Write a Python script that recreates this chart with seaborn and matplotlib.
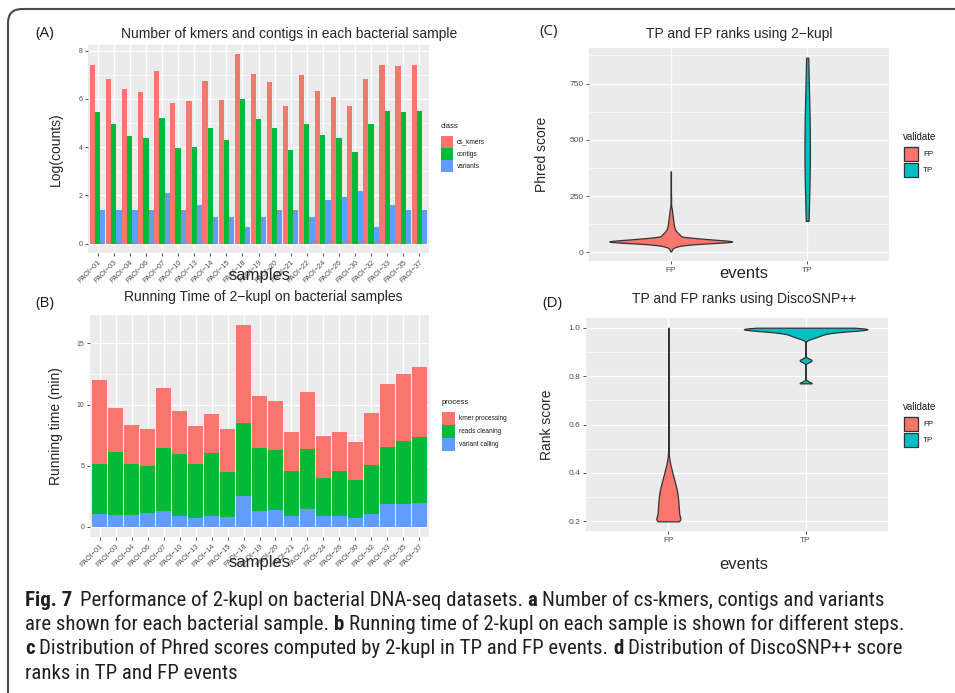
import numpy as np
import pandas as pd
import matplotlib
matplotlib.use("Agg")
import matplotlib.pyplot as plt
import seaborn as sns
from matplotlib.patches import Rectangle, FancyBboxPatch
from matplotlib.transforms import IdentityTransform
from matplotlib.ticker import MultipleLocator
from matplotlib import font_manager

# ---------------- data ----------------
samples = ["PAOI−01", "PAOI−03", "PAOI−04", "PAOI−06", "PAOI−07", "PAOI−10", "PAOI−13",
           "PAOI−14", "PAOI−15", "PAOI−18", "PAOI−19", "PAOI−20", "PAOI−21", "PAOI−22",
           "PAOI−24", "PAOI−26", "PAOI−30", "PAOI−32", "PAOI−33", "PAOI−35", "PAOI−37"]
classes = ["cs_kmers", "contigs", "variants"]
cs_kmers = [7.40, 6.85, 6.40, 6.27, 7.15, 5.82, 5.90, 6.73, 5.95, 7.85, 7.02,
            6.70, 5.70, 6.98, 6.35, 6.10, 5.70, 6.85, 7.40, 7.35, 7.43]
contigs = [5.48, 4.98, 4.48, 4.40, 5.20, 3.98, 4.02, 4.78, 4.28, 5.98, 5.15,
           4.78, 3.90, 4.98, 4.52, 4.40, 3.82, 4.98, 5.52, 5.48, 5.52]
variants = [1.40, 1.40, 1.40, 1.40, 2.08, 1.40, 1.61, 1.10, 1.10, 0.69, 1.10,
            1.40, 1.40, 1.10, 1.82, 1.95, 2.20, 0.69, 1.61, 1.40, 1.40]

processes = ["kmer processing", "reads cleaning", "variant calling"]
kmer_processing = [6.92, 3.62, 3.19, 3.03, 4.88, 3.51, 3.11, 3.19, 3.52, 7.99, 4.25,
                   4.01, 3.19, 4.67, 3.44, 3.19, 3.11, 4.25, 5.15, 5.50, 5.72]
reads_cleaning = [4.09, 5.19, 4.18, 3.84, 5.16, 5.08, 4.42, 5.16, 3.68, 6.00, 5.16,
                  4.91, 3.68, 4.90, 3.11, 3.68, 3.11, 4.01, 4.67, 5.19, 5.40]
variant_calling = [1.04, 0.95, 0.95, 1.12, 1.28, 0.87, 0.71, 0.87, 0.79, 2.51, 1.28,
                   1.36, 0.87, 1.45, 0.87, 0.87, 0.71, 1.04, 1.85, 1.85, 1.94]

validate = ["FP", "TP"]
fp_phred_values = [5, 10, 15, 20, 22, 24, 26, 28, 30, 32, 34, 36, 38, 40, 42, 44, 46, 48,
                   50, 52, 54, 56, 58, 60, 62, 64, 66, 68, 70, 75, 80, 85, 90, 95, 100,
                   105, 110, 115, 120, 125, 130, 135, 140, 145, 150, 155, 160, 165, 170,
                   175, 180, 185, 190, 195, 200, 210, 220, 230, 240, 250, 260, 270, 280,
                   290, 300, 310, 320, 330, 340, 350, 360]
fp_phred_counts = [2, 3, 6, 4, 5, 6, 8, 11, 13, 17, 22, 29, 38, 50, 62, 75, 90, 100,
                   92, 82, 74, 65, 56, 48, 41, 34, 27, 22, 18, 37, 30, 26, 22, 19, 16,
                   14, 13, 12, 11, 10, 10, 9, 9, 8, 8, 7, 7, 6, 6,
                   5, 5, 4, 4, 3, 3, 3, 2, 2, 2, 2, 1, 1, 1,
                   1, 1, 1, 1, 1, 1, 1, 1]
tp_phred_values = [140, 320, 430, 470, 520, 610, 865]

fp_rank_values = [0.20, 0.21, 0.22, 0.23, 0.24, 0.25, 0.26, 0.27, 0.28, 0.29, 0.30,
                  0.31, 0.32, 0.33, 0.34, 0.35, 0.36, 0.37, 0.38, 0.39, 0.40, 0.41,
                  0.42, 0.43, 0.44, 0.45, 0.46, 0.47, 0.48, 0.49, 0.50,
                  0.55, 0.60, 0.70, 0.80, 0.90, 1.00]
fp_rank_counts = [80, 40, 40, 40, 40, 39, 38, 38, 37, 36, 36,
                  34, 33, 32, 29, 27, 25, 22, 20, 17, 15, 13,
                  11, 8, 6, 5, 3, 2, 1, 1, 1,
                  1, 1, 1, 1, 1, 1]
tp_rank_values = [1.000, 0.995, 0.990, 0.985, 0.980, 0.975, 0.970, 0.965, 0.960, 0.955,
                  0.865, 0.770]
tp_rank_counts = [30, 40, 30, 14, 10, 8, 7, 6, 5, 3, 9, 9]

# ---------------- style ----------------
W, H, DPI = 955, 693, 100
RED, GREEN, BLUE, TEAL = "#F8766D", "#00BA38", "#619CFF", "#00BFC4"
PANEL_BG = "#EBEBEB"
TICK_C = "#4D4D4D"

sns.set_theme(style="darkgrid", rc={"axes.facecolor": PANEL_BG, "grid.color": "white"})
plt.rcParams["font.family"] = ["Liberation Sans", "DejaVu Sans"]

fig = plt.figure(figsize=(W / DPI, H / DPI), dpi=DPI)
fig.patch.set_facecolor("white")


def box(l, t, r, b):
    return [l / W, 1 - b / H, (r - l) / W, (b - t) / H]


def style_axes(ax, minor_step, tick_fs):
    ax.set_facecolor(PANEL_BG)
    for s in ax.spines.values():
        s.set_visible(False)
    ax.yaxis.set_minor_locator(MultipleLocator(minor_step))
    ax.grid(True, which="major", axis="both", color="white", lw=1.0)
    ax.grid(True, which="minor", axis="y", color="white", lw=0.5)
    ax.xaxis.grid(True, which="major", color="white", lw=1.0)
    ax.set_axisbelow(True)
    ax.tick_params(which="major", length=2.5, width=0.6, color="#333333",
                   labelsize=tick_fs, labelcolor=TICK_C, pad=1.5, bottom=True, left=True)
    ax.tick_params(which="minor", length=0)


# ---------------- panel A ----------------
axA = fig.add_axes(box(88, 45, 429, 253))
dfA = pd.DataFrame({
    "samples": samples * 3,
    "value": cs_kmers + contigs + variants,
    "class": [classes[0]] * len(samples) + [classes[1]] * len(samples) + [classes[2]] * len(samples),
})
sns.barplot(data=dfA, x="samples", y="value", hue="class", hue_order=classes,
            palette=[RED, GREEN, BLUE], saturation=1, width=0.97, gap=0,
            errorbar=None, legend=False, linewidth=0, ax=axA)
style_axes(axA, 1, 5.0)
axA.set_ylim(-0.39, 8.24)
axA.set_yticks([0, 2, 4, 6, 8])
axA.set_xlim(-0.6, len(samples) - 0.4)
axA.set_xticks(range(len(samples)))
axA.set_xticklabels(samples, rotation=45, ha="right", rotation_mode="anchor", fontsize=5.2)
axA.set_title("Number of kmers and contigs in each bacterial sample", fontsize=10,
              x=0.589, pad=5)
axA.set_ylabel("Log(counts)", fontsize=10)
axA.yaxis.set_label_coords(-0.073, 0.5)
axA.set_xlabel("samples", fontsize=12, va="center")
axA.xaxis.set_label_coords(0.503, -0.106)

# ---------------- panel B ----------------
axB = fig.add_axes(box(90, 315, 429, 537))
vc = np.array(variant_calling)
rc = np.array(reads_cleaning)
kp = np.array(kmer_processing)
sns.barplot(x=samples, y=vc + rc + kp, color=RED, saturation=1, width=0.93,
            errorbar=None, linewidth=0, ax=axB)
sns.barplot(x=samples, y=vc + rc, color=GREEN, saturation=1, width=0.93,
            errorbar=None, linewidth=0, ax=axB)
sns.barplot(x=samples, y=vc, color=BLUE, saturation=1, width=0.93,
            errorbar=None, linewidth=0, ax=axB)
style_axes(axB, 2.5, 5.0)
axB.set_ylim(-0.825, 17.33)
axB.set_yticks([0, 5, 10, 15])
axB.set_xlim(-0.6, len(samples) - 0.4)
axB.set_xticks(range(len(samples)))
axB.set_xticklabels(samples, rotation=45, ha="right", rotation_mode="anchor", fontsize=5.2)
axB.set_title("Running Time of 2−kupl on bacterial samples", fontsize=10, x=0.512, pad=10)
axB.set_ylabel("Running time (min)", fontsize=10)
axB.yaxis.set_label_coords(-0.08, 0.5)
axB.set_xlabel("samples", fontsize=12, va="center")
axB.xaxis.set_label_coords(0.50, -0.117)

# ---------------- panel C ----------------
axC = fig.add_axes(box(589, 48, 889, 261))
fp_phred = np.repeat(fp_phred_values, fp_phred_counts).astype(float)
tp_phred = np.array(tp_phred_values, dtype=float)
sns.violinplot(x=np.full(len(fp_phred), "FP"), y=fp_phred, order=validate, color=RED,
               saturation=1, cut=0, inner=None, density_norm="area", width=0.9,
               bw_method=3.5 / np.std(fp_phred, ddof=1), gridsize=1500,
               linewidth=0.9, linecolor="#333333", ax=axC)
sns.violinplot(x=np.full(len(tp_phred), "TP"), y=tp_phred, order=validate, color=TEAL,
               saturation=1, cut=0, inner=None, density_norm="area", width=0.04,
               bw_method=0.9, gridsize=400,
               linewidth=0.9, linecolor="#333333", ax=axC)
style_axes(axC, 125, 6.0)
axC.set_xlim(-0.6, 1.6)
axC.set_ylim(-38, 908)
axC.set_yticks([0, 250, 500, 750])
axC.set_title("TP and FP ranks using 2−kupl", fontsize=10, x=0.5, pad=7)
axC.set_ylabel("Phred score", fontsize=10)
axC.yaxis.set_label_coords(-0.133, 0.5)
axC.set_xlabel("events", fontsize=12, va="center")
axC.xaxis.set_label_coords(0.517, -0.061)

# ---------------- panel D ----------------
axD = fig.add_axes(box(586, 318, 888, 531))
fp_rank = np.repeat(fp_rank_values, fp_rank_counts).astype(float)
tp_rank = np.repeat(tp_rank_values, tp_rank_counts).astype(float)
sns.violinplot(x=np.full(len(fp_rank), "FP"), y=fp_rank, order=validate, color=RED,
               saturation=1, cut=0, inner=None, density_norm="area", width=0.175,
               bw_method=0.013 / np.std(fp_rank, ddof=1), gridsize=1000,
               linewidth=0.9, linecolor="#333333", ax=axD)
sns.violinplot(x=np.full(len(tp_rank), "TP"), y=tp_rank, order=validate, color=TEAL,
               saturation=1, cut=0, inner=None, density_norm="area", width=0.9,
               bw_method=0.007 / np.std(tp_rank, ddof=1), gridsize=800,
               linewidth=0.9, linecolor="#333333", ax=axD)
style_axes(axD, 0.1, 6.0)
axD.set_xlim(-0.6, 1.6)
axD.set_ylim(0.16, 1.04)
axD.set_yticks([0.2, 0.4, 0.6, 0.8, 1.0])
axD.set_yticklabels(["0.2", "0.4", "0.6", "0.8", "1.0"])
axD.set_title("TP and FP ranks using DiscoSNP++", fontsize=10, x=0.525, pad=11)
axD.set_ylabel("Rank score", fontsize=10)
axD.yaxis.set_label_coords(-0.106, 0.5)
axD.set_xlabel("events", fontsize=12, va="center")
axD.xaxis.set_label_coords(0.523, -0.155)


# ---------------- legends (ggplot style, drawn in pixel layout) ----------------
def gg_legend(title, labels, colors, left, title_y, keys_top, key, text_x, fs, tfs, edge=None):
    fig.text(left / W, 1 - title_y / H, title, fontsize=tfs, ha="left", va="center",
             color="#1a1a1a")
    for i, (lab, c) in enumerate(zip(labels, colors)):
        top = keys_top + i * key
        fig.add_artist(Rectangle((left / W, 1 - (top + key) / H), key / W, key / H,
                                 transform=fig.transFigure, facecolor="#F2F2F2",
                                 edgecolor="none"))
        if edge:
            inset = 1.0
            fig.add_artist(Rectangle(((left + inset) / W, 1 - (top + key - inset) / H),
                                     (key - 2 * inset) / W, (key - 2 * inset) / H,
                                     transform=fig.transFigure, facecolor=c,
                                     edgecolor=edge, linewidth=0.9))
        else:
            fig.add_artist(Rectangle((left / W, 1 - (top + key) / H), key / W, key / H,
                                     transform=fig.transFigure, facecolor=c,
                                     edgecolor="none"))
        fig.text(text_x / W, 1 - (top + key / 2) / H, lab, fontsize=fs, ha="left",
                 va="center", color="#1a1a1a")


gg_legend("class", classes, [RED, GREEN, BLUE], 441, 127, 136, 12, 457, 4.7, 5.6)
gg_legend("process", processes, [RED, GREEN, BLUE], 442, 403, 412, 13, 459, 4.7, 5.6)
gg_legend("validate", validate, [RED, TEAL], 903, 137, 146, 16, 923, 5.8, 7.0, edge="#333333")
gg_legend("validate", validate, [RED, TEAL], 903, 407, 416, 16, 923, 5.8, 7.0, edge="#333333")

# ---------------- panel letters ----------------
for lab, x, y in [("(A)", 45, 33), ("(B)", 45, 303), ("(C)", 549, 32), ("(D)", 552, 303)]:
    fig.text(x / W, 1 - y / H, lab, fontsize=11, family=["Open Sans", "DejaVu Sans"],
             ha="center", va="center", color="#1a1a1a")

# ---------------- frame ----------------
frame = FancyBboxPatch((8, -200), 1200, H - 9 + 200,
                       boxstyle="round,pad=0,rounding_size=14",
                       transform=IdentityTransform(), fill=False,
                       edgecolor="#4a4a4a", linewidth=1.5)
fig.add_artist(frame)

# ---------------- caption ----------------
cap_family = None
for fam in ["Liberation Sans Narrow", "Roboto Condensed", "Roboto", "Open Sans"]:
    try:
        font_manager.findfont(font_manager.FontProperties(family=fam), fallback_to_default=False)
        cap_family = fam
        break
    except Exception:
        pass
if cap_family is None:
    cap_family = "DejaVu Sans"

renderer = fig.canvas.get_renderer()


def text_w(s, fs, bold):
    t = fig.text(0, 0, s, fontsize=fs, family=cap_family, fontweight="bold" if bold else "normal")
    w = t.get_window_extent(renderer).width
    t.remove()
    return w


cap_lines = [
    [("Fig. 7", True, 1.6), ("Performance of 2-kupl on bacterial DNA-seq datasets.", False, 1),
     ("a", True, 1), ("Number of cs-kmers, contigs and variants", False, 0)],
    [("are shown for each bacterial sample.", False, 1), ("b", True, 1),
     ("Running time of 2-kupl on each sample is shown for different steps.", False, 0)],
    [("c", True, 1), ("Distribution of Phred scores computed by 2-kupl in TP and FP events.", False, 1),
     ("d", True, 1), ("Distribution of DiscoSNP++ score", False, 0)],
    [("ranks in TP and FP events", False, 0)],
]


def line_width(pieces, fs):
    sw_ = text_w("a a", fs, False) - text_w("aa", fs, False)
    return sum(text_w(p, fs, b) + g * sw_ for p, b, g in pieces)


base_fs = 13.0
fs_cap = base_fs * (918 - 25) / line_width(cap_lines[1], base_fs)
fs_cap = min(fs_cap, 15.0)
sw = text_w("a a", fs_cap, False) - text_w("aa", fs_cap, False)
baselines = [606, 630, 654, 679]
for pieces, yb in zip(cap_lines, baselines):
    x = 25
    for p, b, g in pieces:
        t = fig.text(x / W, 1 - yb / H, p, fontsize=fs_cap, family=cap_family,
                     fontweight="bold" if b else "normal", ha="left", va="baseline",
                     color="#231f20")
        x += t.get_window_extent(renderer).width + g * sw

fig.savefig("out.png", dpi=DPI, facecolor="white")
